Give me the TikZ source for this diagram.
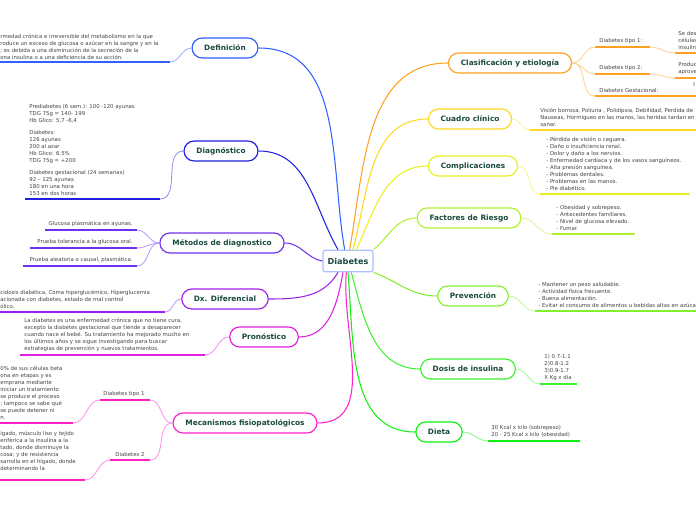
\documentclass[tikz,border=0pt]{standalone}
\usepackage{fontspec}
\setmainfont{DejaVu Sans}
\usetikzlibrary{shapes.misc}
\definecolor{cDef}{HTML}{3060FF}
\definecolor{cDiag}{HTML}{2020E0}
\definecolor{cMet}{HTML}{7030F0}
\definecolor{cDx}{HTML}{A020F0}
\definecolor{cPro}{HTML}{E020E0}
\definecolor{cMec}{HTML}{FF20C8}
\definecolor{cCla}{HTML}{FFA020}
\definecolor{cCua}{HTML}{FFD820}
\definecolor{cCom}{HTML}{E8F020}
\definecolor{cFac}{HTML}{B0F030}
\definecolor{cPre}{HTML}{80F030}
\definecolor{cDos}{HTML}{40F030}
\definecolor{cDie}{HTML}{10F010}
\definecolor{ink}{HTML}{1A4A40}
\definecolor{leafgray}{HTML}{444444}
\tikzset{
  mainbox/.style={rounded rectangle, draw, line width=1pt, fill=white, text=ink,
    font=\fontsize{6.3}{7}\selectfont\bfseries, minimum height=6mm, inner xsep=3.5mm},
  leaf/.style={text=leafgray, font=\fontsize{4.6}{6}\selectfont, align=left, inner sep=1pt},
  branch/.style={line width=0.9pt},
  soft/.style={line width=0.7pt},
  uline/.style={line width=1.6pt}
}
\begin{document}
\begin{tikzpicture}[x=0.3mm, y=-0.3mm]
  \useasboundingbox (0,0) rectangle (696,520);
  % centre
  \node[rounded corners=2pt, draw=cDef!40, line width=1pt, fill=white, text=ink,
    font=\fontsize{7}{8}\selectfont\bfseries, minimum width=15mm, minimum height=6.5mm] (dia) at (348,261) {Diabetes};

  % left side
  \node[mainbox, draw=cDef] (def) at (225,48) {Definición};
  \node[mainbox, draw=cDiag] (diag) at (221,151) {Diagnóstico};
  \node[mainbox, draw=cMet] (met) at (222,243) {Métodos de diagnostico};
  \node[mainbox, draw=cDx] (dx) at (225,299) {Dx. Diferencial};
  \node[mainbox, draw=cPro] (pro) at (264,337) {Pronóstico};
  \node[mainbox, draw=cMec] (mec) at (245,423) {Mecanismos fisiopatológicos};
  \draw[branch, cDef] ([xshift=-1mm]dia.north) to[out=100,in=0] (def.east);
  \draw[branch, cDiag] ([xshift=-3mm]dia.north) to[out=120,in=0] (diag.east);
  \draw[branch, cMet] (dia.west) to[out=170,in=0] (met.east);
  \draw[branch, cDx] ([xshift=-3mm]dia.south) to[out=240,in=0] (dx.east);
  \draw[branch, cPro] ([xshift=-1.5mm]dia.south) to[out=260,in=0] (pro.east);
  \draw[branch, cMec] ([xshift=-0.5mm]dia.south) to[out=265,in=0] (mec.east);

  % definicion
  \coordinate (defU) at (170,62); \coordinate (defE) at (0,62);
  \node[leaf, anchor=south west] (defT) at (-1,61) {rmedad crónica e irreversible del metabolismo en la que\\roduce un exceso de glucosa o azúcar en la sangre y en la\\; es debida a una disminución de la secreción de la\\ona insulina o a una deficiencia de su acción.};
  \draw[soft, cDef!50] (def.west) to[out=180,in=0] (defU);
  \draw[uline, cDef] (defU) -- (defE);

  % diagnostico
  \coordinate (diagU) at (160,199); \coordinate (diagE) at (25,199);
  \node[leaf, anchor=south west] (diagT) at (28,197) {Prediabetes (6 sem.): 100 -120 ayunas\\TDG 75g = 140- 199\\Hb Glico: 5,7 -6,4\\[4pt]Diabetes:\\126 ayunas\\200 al azar\\Hb Glico: 6.5\%\\TDG 75g = +200\\[4pt]Diabetes gestacional (24 semanas)\\92 -- 125 ayunas\\180 en una hora\\153 en dos horas};
  \draw[soft, cDiag!50] (diag.west) to[out=180,in=0] (diagU);
  \draw[uline, cDiag] (diagU) -- (diagE);

  % metodos
  \coordinate (metU1) at (137,230); \coordinate (metE1) at (45,230);
  \coordinate (metU2) at (137,248); \coordinate (metE2) at (30,248);
  \coordinate (metU3) at (137,266); \coordinate (metE3) at (23,266);
  \node[leaf, anchor=south east] (metT1) at (134,228) {Glucosa plasmática en ayunas.};
  \node[leaf, anchor=south east] (metT2) at (134,246) {Prueba tolerancia a la glucosa oral.};
  \node[leaf, anchor=south east] (metT3) at (134,264) {Prueba aleatoria o causal, plasmática.};
  \foreach \i in {1,2,3} {
    \draw[soft, cMet!50] (met.west) to[out=180,in=0] (metU\i);
    \draw[uline, cMet] (metU\i) -- (metE\i);
  }

  % dx diferencial
  \coordinate (dxU) at (165,312); \coordinate (dxE) at (0,312);
  \node[leaf, anchor=south west] (dxT) at (-1,310) {cidosis diabética, Coma hiperglucémico, Hiperglucemia\\acionada con diabetes, estado de mal control\\ólico.};
  \draw[soft, cDx!50] (dx.west) to[out=180,in=0] (dxU);
  \draw[uline, cDx] (dxU) -- (dxE);

  % pronostico
  \coordinate (proU) at (205,355); \coordinate (proE) at (20,355);
  \node[leaf, anchor=south west] (proT) at (23,353) {La diabetes es una enfermedad crónica que no tiene cura,\\excepto la diabetes gestacional que tiende a desaparecer\\cuando nace el bebé. Su tratamiento ha mejorado mucho en\\los últimos años y se sigue investigando para buscar\\estrategias de prevención y nuevos tratamientos.};
  \draw[soft, cPro!50] (pro.west) to[out=180,in=0] (proU);
  \draw[uline, cPro] (proU) -- (proE);

  % mecanismos
  \coordinate (mecU1) at (150,400); \coordinate (mecE1) at (100,400);
  \coordinate (mecU2) at (150,460); \coordinate (mecE2) at (110,460);
  \node[leaf, anchor=south] (mecT1) at (124,398) {Diabetes tipo 1};
  \node[leaf, anchor=south] (mecT2) at (130,458) {Diabetes 2};
  \draw[soft, cMec!50] (mec.west) to[out=180,in=0] (mecU1);
  \draw[soft, cMec!50] (mec.west) to[out=180,in=0] (mecU2);
  \draw[uline, cMec] (mecU1) -- (mecE1);
  \draw[uline, cMec] (mecU2) -- (mecE2);
  \coordinate (mecV1) at (73,423); \coordinate (mecF1) at (0,423);
  \coordinate (mecV2) at (85,480); \coordinate (mecF2) at (0,480);
  \node[leaf, anchor=south west] (mecS1) at (-1,421) {0\% de sus células beta\\ona en etapas y es\\emprana mediante\\iniciar un tratamiento\\se produce el proceso\\; tampoco se sabe qué\\se puede detener ni\\n.};
  \node[leaf, anchor=south west] (mecS2) at (-1,472) {ígado, músculo liso y tejido\\erifèrica a la insulina a la\\tado, donde disminuye la\\cosa; y de resistencia\\sarrolla en el hígado, donde\\ determinando la};
  \draw[soft, cMec!50] (mecE1) to[out=180,in=0] (mecV1);
  \draw[soft, cMec!50] (mecE2) to[out=180,in=0] (mecV2);
  \draw[uline, cMec] (mecV1) -- (mecF1);
  \draw[uline, cMec] (mecV2) -- (mecF2);

  % right side
  \node[mainbox, draw=cCla] (cla) at (510,63) {Clasificación y etiología};
  \node[mainbox, draw=cCua] (cua) at (470,119) {Cuadro clínico};
  \node[mainbox, draw=cCom] (com) at (473,166) {Complicaciones};
  \node[mainbox, draw=cFac] (fac) at (469,218) {Factores de Riesgo};
  \node[mainbox, draw=cPre] (pre) at (473,296) {Prevención};
  \node[mainbox, draw=cDos] (dos) at (468,369) {Dosis de insulina};
  \node[mainbox, draw=cDie] (die) at (439,432) {Dieta};
  \draw[branch, cCla] ([xshift=0.5mm]dia.north) to[out=80,in=180] (cla.west);
  \draw[branch, cCua] ([xshift=1.5mm]dia.north) to[out=75,in=180] (cua.west);
  \draw[branch, cCom] ([xshift=2.5mm]dia.north) to[out=65,in=180] (com.west);
  \draw[branch, cFac] (dia.north east) to[out=40,in=180] (fac.west);
  \draw[branch, cPre] (dia.south east) to[out=-20,in=180] (pre.west);
  \draw[branch, cDos] ([xshift=1mm]dia.south) to[out=-75,in=180] (dos.west);
  \draw[branch, cDie] (dia.south) to[out=-85,in=180] (die.west);

  % clasificacion
  \foreach \n/\y/\e/\t in {1/47/650/Diabetes tipo 1:, 2/74/650/Diabetes tipo 2:, 3/96/665/Diabetes Gestacional:} {
    \coordinate (claU\n) at (595,\y); \coordinate (claE\n) at (\e,\y);
    \node[leaf, anchor=south west] (claT\n) at (598,\y-2) {\t};
    \draw[soft, cCla!50] (cla.east) to[out=0,in=180] (claU\n);
    \draw[uline, cCla] (claU\n) -- (claE\n);
  }
  \coordinate (claV1) at (675,53); \coordinate (claW1) at (700,53);
  \coordinate (claV2) at (675,78); \coordinate (claW2) at (700,78);
  \coordinate (claV3) at (694,96); \coordinate (claW3) at (700,96);
  \node[leaf, anchor=south west] (claS1) at (677,51) {Se destruyen\\células\\insulina};
  \node[leaf, anchor=south west] (claS2) at (677,76) {Produce\\aprovecha};
  \node[leaf, anchor=south west] (claS3) at (692,88) {I};
  \foreach \n in {1,2} {
    \draw[soft, cCla!50] (claE\n) to[out=0,in=180] (claV\n);
    \draw[uline, cCla] (claV\n) -- (claW\n);
  }
  \draw[uline, cCla] (claE3) -- (claW3);

  % cuadro clinico
  \coordinate (cuaU) at (530,130); \coordinate (cuaE) at (700,130);
  \node[leaf, anchor=south west] (cuaT) at (539,128) {Visión borrosa, Poliuria , Polidipsia, Debilidad, Perdida de\\Nauseas, Hormigueo en las manos, las heridas tardan en\\sanar.};
  \draw[soft, cCua!50] (cua.east) to[out=0,in=180] (cuaU);
  \draw[uline, cCua] (cuaU) -- (cuaE);

  % complicaciones
  \coordinate (comU) at (540,194); \coordinate (comE) at (690,194);
  \node[leaf, anchor=south west] (comT) at (545,192) {- Pérdida de visión o ceguera.\\- Daño o insuficiencia renal.\\- Dolor y daño a los nervios.\\- Enfermedad cardíaca y de los vasos sanguíneos.\\- Alta presión sanguínea.\\- Problemas dentales.\\- Problemas en las manos.\\- Pie diabético.};
  \draw[soft, cCom!50] (com.east) to[out=0,in=180] (comU);
  \draw[uline, cCom] (comU) -- (comE);

  % factores
  \coordinate (facU) at (552,234); \coordinate (facE) at (635,234);
  \node[leaf, anchor=south west] (facT) at (555,232) {- Obesidad y sobrepeso.\\- Antecedentes familiares.\\- Nivel de glucosa elevado.\\- Fumar.};
  \draw[soft, cFac!50] (fac.east) to[out=0,in=180] (facU);
  \draw[uline, cFac] (facU) -- (facE);

  % prevencion
  \coordinate (preU) at (535,311); \coordinate (preE) at (700,311);
  \node[leaf, anchor=south west] (preT) at (537,309) {- Mantener un peso saludable.\\- Actividad física frecuente.\\- Buena alimentación.\\- Evitar el consumo de alimentos u bebidas altas en azúcar.};
  \draw[soft, cPre!50] (pre.east) to[out=0,in=180] (preU);
  \draw[uline, cPre] (preU) -- (preE);

  % dosis
  \coordinate (dosU) at (540,384); \coordinate (dosE) at (577,384);
  \node[leaf, anchor=south west] (dosT) at (543,382) {1) 0.7-1.1\\2)0.8-1.2\\3)0.9-1.7\\X Kg x día};
  \draw[soft, cDos!50] (dos.east) to[out=0,in=180] (dosU);
  \draw[uline, cDos] (dosU) -- (dosE);

  % dieta
  \coordinate (dieU) at (488,441); \coordinate (dieE) at (580,441);
  \node[leaf, anchor=south west] (dieT) at (490,439) {30 Kcal x kilo (sobrepeso)\\20 - 25 Kcal x kilo (obesidad)};
  \draw[soft, cDie!50] (die.east) to[out=0,in=180] (dieU);
  \draw[uline, cDie] (dieU) -- (dieE);
\end{tikzpicture}
\end{document}
